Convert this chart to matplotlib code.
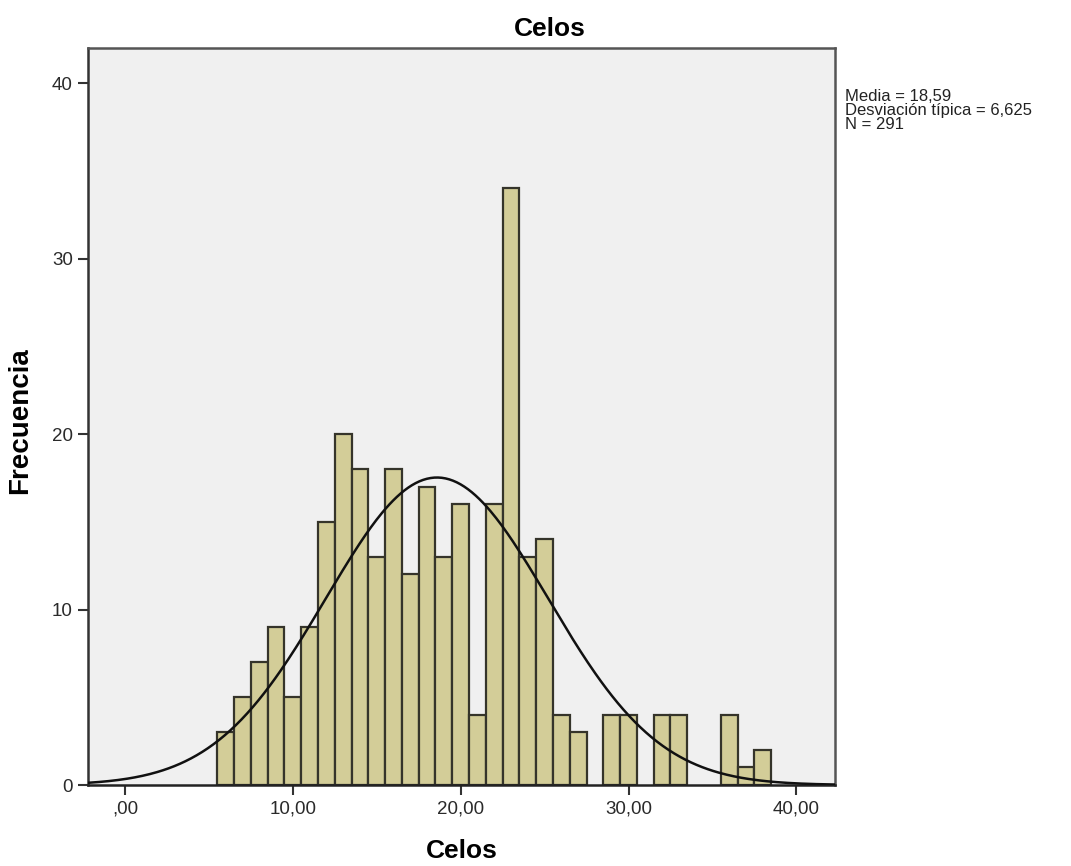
import numpy as np
import matplotlib
matplotlib.use("Agg")
import matplotlib.pyplot as plt

# histogram of "Celos" (bin width 1, bins centred on integers)
bin_centers = list(range(6, 39))
counts = [3, 5, 7, 9, 5, 9, 15, 20, 18, 13, 18, 12, 17, 13, 16, 4, 16, 34,
          13, 14, 4, 3, 0, 4, 4, 0, 4, 4, 0, 0, 4, 1, 2]

mean = 18.59
std = 6.625
n = 291

x_ticks = [0, 10, 20, 30, 40]
x_tick_labels = [",00", "10,00", "20,00", "30,00", "40,00"]
y_ticks = [0, 10, 20, 30, 40]

plt.rcParams["font.family"] = ["Liberation Sans", "DejaVu Sans"]

fig = plt.figure(figsize=(10.71, 8.66), dpi=100)
ax = fig.add_axes([0.0822, 0.0935, 0.6974, 0.8511])
ax.set_facecolor("#f0f0f0")

centers = [c for c, k in zip(bin_centers, counts) if k > 0]
heights = [k for k in counts if k > 0]
ax.bar(centers, heights, width=1.0, color="#d3cd98", edgecolor="#35342a",
       linewidth=1.6, zorder=2)

# normal curve scaled to the counts
xs = np.linspace(-2.2, 42.3, 400)
ys = n * 1.0 / (std * np.sqrt(2 * np.pi)) * np.exp(-0.5 * ((xs - mean) / std) ** 2)
ax.plot(xs, ys, color="#111111", linewidth=1.8, zorder=3)

ax.set_xlim(-2.2, 42.3)
ax.set_ylim(0, 42)
ax.set_xticks(x_ticks)
ax.set_xticklabels(x_tick_labels)
ax.set_yticks(y_ticks)
ax.tick_params(axis="both", direction="out", length=7, width=1.5,
               color="#333333", labelsize=13.5, labelcolor="#2a2a2a", pad=4)

for side in ["left", "bottom", "right", "top"]:
    ax.spines[side].set_color("#555555")
    ax.spines[side].set_linewidth(1.8)
ax.spines["left"].set_color("#333333")
ax.spines["bottom"].set_color("#222222")

fig.text(462 / 1071, 1 - 851 / 866, "Celos", ha="center", va="center",
         fontsize=19, fontweight="bold")
fig.text(20 / 1071, 1 - 421 / 866, "Frecuencia", ha="center", va="center",
         rotation=90, fontsize=20, fontweight="bold")
fig.text(550 / 1071, 1 - 29 / 866, "Celos", ha="center", va="center",
         fontsize=19, fontweight="bold")

stats = "Media = 18,59\nDesviación típica = 6,625\nN = 291"
fig.text(0.789, 0.897, stats, ha="left", va="top", fontsize=12,
         linespacing=0.92, color="#222222")

fig.savefig("out.png", dpi=100)
